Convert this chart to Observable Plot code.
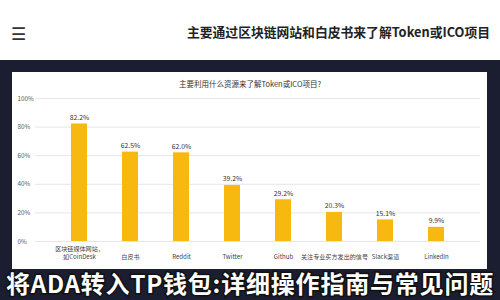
<!DOCTYPE html>
<html><head><meta charset="utf-8">
<script src="https://cdn.jsdelivr.net/npm/d3@7"></script>
<script src="https://cdn.jsdelivr.net/npm/@observablehq/plot@0.6"></script>
<style>
html,body{margin:0;padding:0;width:500px;height:300px;overflow:hidden;background:#fff;font-family:"Noto Sans CJK SC","Noto Sans",sans-serif;}
#top{position:absolute;left:0;top:0;width:500px;height:60px;background:#fff;}
#menu{position:absolute;left:11px;top:20px;font-size:17px;color:#333;}
#title{position:absolute;right:10px;top:22px;font-size:12.8px;font-weight:bold;color:#222;white-space:nowrap;}
#dark{position:absolute;left:0;top:60px;width:500px;height:240px;background:#1b1e30;}
#panel{position:absolute;left:12px;top:72px;width:475px;height:197px;background:#fff;}
#ctitle{position:absolute;left:0;width:500px;top:78px;text-align:center;font-size:7.5px;color:#333;}
#chart{position:absolute;left:0;top:60px;}
#overlay{position:absolute;left:-10px;width:520px;top:265px;text-align:center;font-size:24px;letter-spacing:0.8px;font-weight:bold;color:#fff;white-space:nowrap;-webkit-text-stroke:3px #111;paint-order:stroke fill;}
</style></head>
<body>
<div id="top"><div id="menu">☰</div><div id="title">主要通过区块链网站和白皮书来了解Token或ICO项目</div></div>
<div id="dark"></div>
<div id="panel"></div>
<div id="ctitle">主要利用什么资源来了解Token或ICO项目?</div>
<div id="chart"></div>
<div id="overlay">将ADA转入TP钱包:详细操作指南与常见问题</div>
<script>
const categories = ["区块链媒体网站，\n如CoinDesk","白皮书","Reddit","Twitter","Github","关注专业买方发出的信号","Slack渠道","LinkedIn"];
const values = [82.2, 62.5, 62.0, 39.2, 29.2, 20.3, 15.1, 9.9];
const yTicks = [0, 20, 40, 60, 80, 100];
const data = categories.map((c, i) => ({cat: c, v: values[i]}));

const chart = Plot.plot({
  width: 500, height: 210,
  marginLeft: 35, marginRight: 20, marginTop: 38, marginBottom: 29,
  style: {background: "transparent", fontFamily: "'Noto Sans CJK SC','Noto Sans',sans-serif"},
  x: {domain: categories, padding: 0.69, axis: null},
  y: {domain: [0, 100], axis: null},
  marks: [
    Plot.gridY(yTicks, {stroke: "#e6e6e6", strokeOpacity: 1}),
    Plot.text(yTicks, {x: null, y: d => d, text: d => d + "%", frameAnchor: "left", dx: -18, textAnchor: "start", fontSize: 6.3, fill: "#555"}),
    Plot.barY(data, {x: "cat", y: "v", fill: "#f7b90f"}),
    Plot.text(data, {x: "cat", y: "v", text: d => d.v.toFixed(1) + "%", dy: -4, lineAnchor: "bottom", fontSize: 6.8, fill: "#333"}),
    Plot.text(data, {x: "cat", y: 0, text: "cat", dy: 17, lineAnchor: "bottom", fontSize: 6.1, lineHeight: 1.25, fill: "#444"})
  ]
});
document.getElementById("chart").appendChild(chart);
</script>
</body></html>
